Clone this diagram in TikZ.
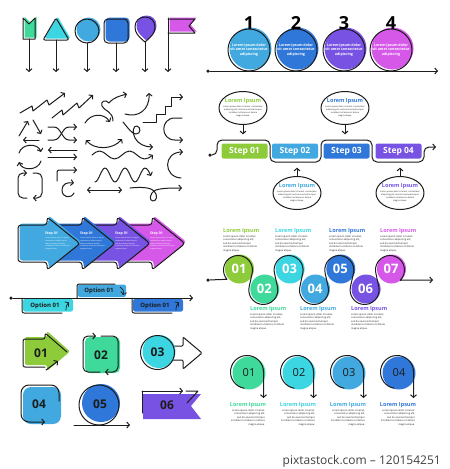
\documentclass[tikz,border=0pt]{standalone}
\usepackage{fontspec}
\setsansfont{Open Sans}
\usetikzlibrary{positioning}
\usetikzlibrary{calc}
\usetikzlibrary{shapes.geometric}
\usetikzlibrary{arrows.meta}
\definecolor{ink}{HTML}{1C1C1C}
\definecolor{clime}{HTML}{8DCB3B}
\definecolor{cgreen}{HTML}{3FD99B}
\definecolor{ccyan}{HTML}{3CD5E2}
\definecolor{csky}{HTML}{41A9E0}
\definecolor{cblue}{HTML}{2F77D8}
\definecolor{cpurple}{HTML}{7752E3}
\definecolor{cmagenta}{HTML}{D658E9}
\newcommand{\loremtext}{Lorem ipsum dolor sit amet,\\consectetur adipiscing elit,\\sed do eiusmod tempor\\incididunt ut labore et dolore\\magna aliqua.}
\newcommand{\loremwide}{Lorem ipsum dolor sit amet, consectetur\\adipiscing elit, sed do eiusmod tempor\\incididunt ut labore et dolore\\magna aliqua.}
\newcommand{\loremshort}{Lorem ipsum dolor\\sit amet consectetur\\adipiscing}
\tikzset{>={Straight Barb[length=2.6pt, width=6pt]},
        wire/.style={draw=ink, line width=1pt, line cap=round, line join=round},
        arr/.style={wire, ->},
        pindot/.style={circle, fill=ink, inner sep=0pt, minimum size=3.5pt},
        tint/.style={shift={(1.5,-1.5)}},
        lorem/.style={font=\sffamily\fontsize{2.5}{3.6}\selectfont, text=ink, inner sep=0pt},
        ltitle/.style={font=\sffamily\bfseries\fontsize{5.5}{5.5}\selectfont, inner sep=0pt},
        stepbox/.style={rounded corners=2pt, minimum width=46pt, minimum height=15pt, inner sep=0pt, text=white, font=\sffamily\bfseries\fontsize{8.5}{8.5}\selectfont},
        bubble/.style={ellipse, wire, fill=white, minimum width=48pt, minimum height=33pt, inner sep=0pt},
        chevtitle/.style={anchor=north west, inner sep=0pt, text=white, font=\sffamily\bfseries\fontsize{3.5}{3.5}\selectfont},
        chevbody/.style={anchor=north west, inner sep=0pt, text=white, align=left, font=\sffamily\fontsize{1.8}{2.8}\selectfont},
        wnum/.style={font=\sffamily\bfseries\fontsize{13}{13}\selectfont, text=white, inner sep=0pt},
        bnum/.style={font=\sffamily\bfseries\fontsize{12}{12}\selectfont, text=ink, inner sep=0pt},
        rnum/.style={font=\sffamily\fontsize{11}{11}\selectfont, text=ink, inner sep=0pt},
        optlabel/.style={font=\sffamily\bfseries\fontsize{6}{6}\selectfont, text=ink, inner sep=0pt},
}

\begin{document}
\begin{tikzpicture}[x=1pt, y=-1pt]
      \useasboundingbox (0,0) rectangle (450,469);

      % PINS
      \fill[cgreen, tint] (23,18) -- (29,24) -- (35,18) -- (35,39) -- (23,39) -- cycle;
      \draw[wire] (23,18) -- (29,24) -- (35,18) -- (35,39) -- (23,39) -- cycle;
      \draw[arr] (29,39) -- (29,72);
      \fill[ccyan, tint, rounded corners=2] (43,40) -- (56,18) -- (69,40) -- cycle;
      \draw[wire, rounded corners=2] (43,40) -- (56,18) -- (69,40) -- cycle;
      \draw[arr] (56,40) -- (56,72);
      \fill[csky, tint] (87,31) circle (12);
      \draw[wire] (87,31) circle (12);
      \draw[arr] (87,43) -- (87,72);
      \fill[cblue, tint, rounded corners=4] (104,19) rectangle (128,43);
      \draw[wire, rounded corners=4] (104,19) rectangle (128,43);
      \draw[arr] (116,43) -- (116,72);
      \fill[cpurple, tint] (145,42) .. controls (138,36) and (135,33) .. (135,27) .. controls (135,21) and (139,17) .. (145,17) .. controls (151,17) and (155,21) .. (155,27) .. controls (155,33) and (152,36) .. (145,42) -- cycle;
      \draw[wire] (145,42) .. controls (138,36) and (135,33) .. (135,27) .. controls (135,21) and (139,17) .. (145,17) .. controls (151,17) and (155,21) .. (155,27) .. controls (155,33) and (152,36) .. (145,42) -- cycle;
      \draw[arr] (145,42) -- (145,72);
      \fill[cmagenta, tint] (168,19) -- (195,19) -- (189,26) -- (195,33) -- (168,33) -- cycle;
      \draw[wire] (168,19) -- (195,19) -- (189,26) -- (195,33) -- (168,33);
      \draw[arr] (168,18) -- (168,72);

      % TIMELINE 1-4
      \node[pindot] (tstart) at (208,71) {};
      \coordinate (tend) at (438,71);
      \draw[arr] (tstart) -- (tend);
      \coordinate (t1) at (249,50);
      \coordinate (t2) at (296,50);
      \coordinate (t3) at (344,50);
      \coordinate (t4) at (391,50);
      \fill[csky] ($(t1)+(1.5,-1.5)$) circle (21);
      \fill[cblue] ($(t2)+(1.5,-1.5)$) circle (21);
      \fill[cpurple] ($(t3)+(1.5,-1.5)$) circle (21);
      \fill[cmagenta] ($(t4)+(1.5,-1.5)$) circle (21);
      \draw[wire] (t1) circle (21);
      \draw[wire] (t2) circle (21);
      \draw[wire] (t3) circle (21);
      \draw[wire] (t4) circle (21);
      \node[lorem, text=white, align=center, font=\sffamily\bfseries\fontsize{3.6}{4.6}\selectfont] (t1x) at (t1) {\loremshort};
      \node[lorem, text=white, align=center, font=\sffamily\bfseries\fontsize{3.6}{4.6}\selectfont] (t2x) at (t2) {\loremshort};
      \node[lorem, text=white, align=center, font=\sffamily\bfseries\fontsize{3.6}{4.6}\selectfont] (t3x) at (t3) {\loremshort};
      \node[lorem, text=white, align=center, font=\sffamily\bfseries\fontsize{3.6}{4.6}\selectfont] (t4x) at (t4) {\loremshort};
      \node[font=\sffamily\bfseries\fontsize{18}{18}\selectfont, inner sep=0pt] (n1) at (249,23) {1};
      \node[font=\sffamily\bfseries\fontsize{18}{18}\selectfont, inner sep=0pt] (n2) at (296,23) {2};
      \node[font=\sffamily\bfseries\fontsize{18}{18}\selectfont, inner sep=0pt] (n3) at (344,23) {3};
      \node[font=\sffamily\bfseries\fontsize{18}{18}\selectfont, inner sep=0pt] (n4) at (391,23) {4};

      % DOODLE ARROWS
      \draw[arr] (20,113) -- (32,106) -- (33,111) -- (47,100) -- (49,105) -- (65,93);
      \draw[arr] (52,118) -- (62,110) -- (63,115) -- (77,103) -- (79,108) -- (93,95);
      \draw[arr] (113,121) .. controls (113,111) and (104,111) .. (102,106) .. controls (100,101) and (106,99) .. (109,103) .. controls (114,97) and (120,96) .. (127,94);
      \draw[arr] (125,114) .. controls (138,118) and (150,110) .. (149,93);
      \draw[arr] (143,122) -- (156,122) -- (156,114) -- (165,114) -- (165,106) -- (171,106) -- (171,97) -- (183,97);
      \draw[arr] (33,120) -- (41,134);
      \draw[arr] (39,140) -- (23,140);
      \draw[arr] (19,136) -- (28,121);
      \draw[arr] (48,127) -- (54,127) .. controls (61,127) and (62,140) .. (69,140) -- (77,140);
      \draw[arr] (48,140) -- (54,140) .. controls (61,140) and (62,127) .. (69,127) -- (77,127);
      \draw[arr] (85,123) .. controls (91,113) and (104,113) .. (110,122);
      \draw[wire, <->] (86,140) .. controls (94,150) and (113,150) .. (122,139);
      \draw[arr] (123,122) .. controls (128,128) and (132,134) .. (136,134) .. controls (141,134) and (141,127) .. (137,126) .. controls (133,125) and (132,133) .. (135,138) .. controls (138,144) and (145,147) .. (153,147);
      \draw[arr] (182,118) -- (175,118) .. controls (160,118) and (160,140) .. (175,140) -- (183,140);
      \draw[arr] (19,153) .. controls (22,143) and (38,143) .. (41,152);
      \draw[arr] (41,161) .. controls (38,171) and (22,171) .. (19,162);
      \draw[arr] (77,150) -- (48,150);
      \draw[arr] (48,157) -- (77,157);
      \draw[arr] (92,155) sin (99.5,151) cos (107,155) sin (114.5,159) cos (122,155) sin (129.5,151) cos (137,155) sin (144.5,159) cos (153,155);
      \draw[arr] (181,178) .. controls (163,177) and (163,152) .. (183,152);
      \draw[arr, rounded corners=5] (27,198) -- (18,198) -- (18,173) -- (27,173);
      \draw[arr, rounded corners=5] (33,173) -- (42,173) -- (42,198) -- (33,198);
      \draw[arr, rounded corners=2] (57,181) -- (57,170) -- (77,170);
      \draw[arr] (74,193) .. controls (71,199) and (62,198) .. (62,190) .. controls (62,184) and (67,182) .. (74,183);
      \draw[arr] (95,182) cos (100,175) sin (105,168) cos (110,175) sin (115,182) cos (120,175) sin (125,168) cos (130,175) sin (135,182) cos (140,175) sin (145,168) cos (151,176);
      \draw[wire, <->] (87,190) -- (122,190);
      \draw[arr] (130,188) .. controls (140,187) and (150,187) .. (154,191) .. controls (158,195) and (157,201) .. (153,201) .. controls (149,201) and (149,193) .. (156,190) .. controls (162,188) and (172,188) .. (182,188);

      % STEPS
      \node[stepbox, fill=clime] (s1) at (244.5,151) {Step 01};
      \node[stepbox, fill=csky] (s2) at (295,151) {Step 02};
      \node[stepbox, fill=cblue] (s3) at (346.5,151) {Step 03};
      \node[stepbox, fill=cpurple] (s4) at (398.5,151) {Step 04};
      \node[pindot] (sstart) at (210,155) {};
      \draw[arr, rounded corners=5] (sstart) -- (217,155) -- (217,140) -- (270,140) -- (270,162) -- (321,162) -- (321,140) -- (372,140) -- (372,162) -- (424,162) -- (424,147) -- (436,147);
      % bubbles
      \node[bubble] (b1) at (243,108) {};
      \node[bubble] (b3) at (345,108) {};
      \node[bubble] (b2) at (297,193) {};
      \node[bubble] (b4) at (400,193) {};
      \node[ltitle, text=clime] (b1t) at (243,101) {Lorem Ipsum};
      \node[ltitle, text=cblue] (b3t) at (345,101) {Lorem Ipsum};
      \node[ltitle, text=csky] (b2t) at (297,186) {Lorem Ipsum};
      \node[ltitle, text=cpurple] (b4t) at (400,186) {Lorem Ipsum};
      \node[lorem, align=center, font=\sffamily\fontsize{2.1}{3}\selectfont] (b1x) at (243,111) {\loremwide};
      \node[lorem, align=center, font=\sffamily\fontsize{2.1}{3}\selectfont] (b3x) at (345,111) {\loremwide};
      \node[lorem, align=center, font=\sffamily\fontsize{2.1}{3}\selectfont] (b2x) at (297,196) {\loremwide};
      \node[lorem, align=center, font=\sffamily\fontsize{2.1}{3}\selectfont] (b4x) at (400,196) {\loremwide};
      \draw[arr, shorten >=9pt] (b1) -- (b1 |- s1.north);
      \draw[arr, shorten >=9pt] (b3) -- (b3 |- s3.north);
      \draw[arr, shorten >=9pt] (b2) -- (b2 |- s2.south);
      \draw[arr, shorten >=9pt] (b4) -- (b4 |- s4.south);

      % STEP ARROWS
      \fill[cmagenta, tint, rounded corners=3] (123,225) -- (152,225) -- (152,217) -- (185,243.5) -- (152,270) -- (152,262) -- (123,262) -- cycle;
      \draw[wire, rounded corners=3] (123,225) -- (152,225) -- (152,217) -- (185,243.5) -- (152,270) -- (152,262) -- (123,262) -- cycle;
      \fill[cpurple, tint, rounded corners=3] (88,225) -- (117,225) -- (117,217) -- (150,243.5) -- (117,270) -- (117,262) -- (88,262) -- cycle;
      \draw[wire, rounded corners=3] (88,225) -- (117,225) -- (117,217) -- (150,243.5) -- (117,270) -- (117,262) -- (88,262) -- cycle;
      \fill[cblue, tint, rounded corners=3] (53,225) -- (82,225) -- (82,217) -- (115,243.5) -- (82,270) -- (82,262) -- (53,262) -- cycle;
      \draw[wire, rounded corners=3] (53,225) -- (82,225) -- (82,217) -- (115,243.5) -- (82,270) -- (82,262) -- (53,262) -- cycle;
      \fill[csky, tint, rounded corners=3] (18,225) -- (47,225) -- (47,217) -- (80,243.5) -- (47,270) -- (47,262) -- (18,262) -- cycle;
      \draw[wire, rounded corners=3] (18,225) -- (47,225) -- (47,217) -- (80,243.5) -- (47,270) -- (47,262) -- (18,262) -- cycle;
      \node[chevtitle] (a1t) at (45,232) {Step 01};
      \node[chevtitle] (a2t) at (80,232) {Step 01};
      \node[chevtitle] (a3t) at (115,232) {Step 01};
      \node[chevtitle] (a4t) at (150,232) {Step 01};
      \node[chevbody] (a1x) at (45,237) {\loremtext};
      \node[chevbody] (a2x) at (80,237) {\loremtext};
      \node[chevbody] (a3x) at (115,237) {\loremtext};
      \node[chevbody] (a4x) at (150,237) {\loremtext};

      % OPTIONS
      \node[pindot] (ostart) at (11,298) {};
      \coordinate (oend) at (193,298);
      \draw[arr] (ostart) -- (oend);
      \fill[ccyan, rounded corners=2] (23,299) rectangle (73,311.5);
      \fill[csky, rounded corners=2] (78,284.5) rectangle (126,297);
      \fill[cblue, rounded corners=2] (133,299) rectangle (183,311.5);
      \draw[wire, rounded corners=2] (22,298) -- (22,313) -- (62,313);
      \draw[wire, rounded corners=2] (77,298) -- (77,284) -- (115,284);
      \draw[wire, rounded corners=2] (132,298) -- (132,313) -- (172,313);
      \node[optlabel] (o1) at (45,305.5) {Option 01};
      \node[optlabel] (o2) at (99,291) {Option 01};
      \node[optlabel] (o3) at (155,305.5) {Option 01};
      \draw[arr, line width=0.7pt] (66,310) .. controls (66,306) and (67,304) .. (69,302.5);
      \draw[arr, line width=0.7pt] (120,287) .. controls (123,288) and (124,291) .. (123,295);
      \draw[arr, line width=0.7pt] (176,310) .. controls (176,306) and (177,304) .. (179,302.5);

      % WAVE 01-07
      \coordinate (w1) at (238,270);
      \coordinate (w2) at (263.3,290);
      \coordinate (w3) at (288.6,270);
      \coordinate (w4) at (314,290);
      \coordinate (w5) at (339.3,270);
      \coordinate (w6) at (364.6,290);
      \coordinate (w7) at (390,270);
      \fill[clime] ($(w1)+(1.5,-1)$) circle (14.5);
      \fill[cgreen] ($(w2)+(1.5,-1)$) circle (14.5);
      \fill[ccyan] ($(w3)+(1.5,-1)$) circle (14.5);
      \fill[csky] ($(w4)+(1.5,-1)$) circle (14.5);
      \fill[cblue] ($(w5)+(1.5,-1)$) circle (14.5);
      \fill[cpurple] ($(w6)+(1.5,-1)$) circle (14.5);
      \fill[cmagenta] ($(w7)+(1.5,-1)$) circle (14.5);
      \node[pindot] (wstart) at (208,280) {};
      \coordinate (wend) at (433,280);
      \draw[arr] (wstart) -- ($(w1)+(140:14.5)$) arc[start angle=140, end angle=372.3, radius=14.5]
        -- ($(w2)+(192.3:14.5)$) arc[start angle=192.3, end angle=-12.3, radius=14.5]
        -- ($(w3)+(167.7:14.5)$) arc[start angle=167.7, end angle=372.3, radius=14.5]
        -- ($(w4)+(192.3:14.5)$) arc[start angle=192.3, end angle=-12.3, radius=14.5]
        -- ($(w5)+(167.7:14.5)$) arc[start angle=167.7, end angle=372.3, radius=14.5]
        -- ($(w6)+(192.3:14.5)$) arc[start angle=192.3, end angle=-12.3, radius=14.5]
        -- ($(w7)+(167.7:14.5)$) arc[start angle=167.7, end angle=405, radius=14.5] -- (wend);
      \node[wnum] (w1n) at ($(w1)+(1,-1)$) {01};
      \node[wnum] (w2n) at ($(w2)+(1,-1)$) {02};
      \node[wnum] (w3n) at ($(w3)+(1,-1)$) {03};
      \node[wnum] (w4n) at ($(w4)+(1,-1)$) {04};
      \node[wnum] (w5n) at ($(w5)+(1,-1)$) {05};
      \node[wnum] (w6n) at ($(w6)+(1,-1)$) {06};
      \node[wnum] (w7n) at ($(w7)+(1,-1)$) {07};
      \node[ltitle, anchor=north west, text=clime] (w1t) at (223,228) {Lorem Ipsum};
      \node[ltitle, anchor=north west, text=ccyan] (w3t) at (275,228) {Lorem Ipsum};
      \node[ltitle, anchor=north west, text=cblue] (w5t) at (329,228) {Lorem Ipsum};
      \node[ltitle, anchor=north west, text=cmagenta] (w7t) at (380,228) {Lorem Ipsum};
      \node[ltitle, anchor=north west, text=cgreen] (w2t) at (250,306) {Lorem Ipsum};
      \node[ltitle, anchor=north west, text=csky] (w4t) at (300,306) {Lorem Ipsum};
      \node[ltitle, anchor=north west, text=cpurple] (w6t) at (351,306) {Lorem Ipsum};
      \node[lorem, anchor=north west, align=left] (w1x) at (223,235) {\loremtext};
      \node[lorem, anchor=north west, align=left] (w3x) at (275,235) {\loremtext};
      \node[lorem, anchor=north west, align=left] (w5x) at (329,235) {\loremtext};
      \node[lorem, anchor=north west, align=left] (w7x) at (380,235) {\loremtext};
      \node[lorem, anchor=north west, align=left] (w2x) at (250,313) {\loremtext};
      \node[lorem, anchor=north west, align=left] (w4x) at (300,313) {\loremtext};
      \node[lorem, anchor=north west, align=left] (w6x) at (351,313) {\loremtext};

      % BADGES 01-06
      \fill[clime, rounded corners=2] (25,337) -- (47,337) -- (47,331) -- (70,351.5) -- (47,371) -- (47,365) -- (25,365) -- cycle;
      \draw[wire, rounded corners=2] (45,367) -- (23,367) -- (23,339) -- (45,339) -- (45,333) -- (67,352);
      \draw[arr] (46,370) -- (58,361);
      \node[bnum] (g1) at (41,353) {01};
      \fill[cgreen, rounded corners=5] (85,337) rectangle (120,373);
      \draw[arr, rounded corners=5] (100,372) -- (83,372) -- (83,336) -- (96,336);
      \draw[arr, rounded corners=5] (101,336) -- (118,336) -- (118,372) -- (105,372);
      \node[bnum] (g2) at (101,355) {02};
      \coordinate (g3c) at (157.5,352.5);
      \draw[wire, rounded corners=1] (173,346) -- (183,346) -- (183,337) -- (202,353) -- (183,369) -- (183,360) -- (173,360);
      \fill[ccyan] ($(g3c)+(1.5,-1)$) circle (16.5);
      \draw[wire] (g3c) circle (17);
      \node[bnum] (g3) at (g3c) {03};
      \fill[csky, rounded corners=8] (23,387) rectangle (61,424);
      \draw[arr, rounded corners=8] (59,401) -- (59,385) -- (21,385) -- (21,422) -- (45,422);
      \node[bnum] (g4) at (39,404) {04};
      \coordinate (g5c) at (99,405);
      \fill[cblue] (101,403) circle (19);
      \draw[wire] (g5c) circle (20);
      \draw[arr] (74,425) -- (130,425);
      \node[bnum] (g5) at (100,404) {05};
      \fill[cpurple] (143,394) -- (201,394) -- (191,406) -- (201,419) -- (143,419) -- cycle;
      \draw[wire] (142,413) -- (142,391);
      \draw[arr] (142,391) -- (183,391);
      \draw[wire] (186,391) -- (198,391) -- (187,403);
      \node[bnum] (g6) at (167,405) {06};

      % CIRCLES 01-04
      \coordinate (r1) at (247,372);
      \coordinate (r2) at (297,372);
      \coordinate (r3) at (347,372);
      \coordinate (r4) at (397,372);
      \fill[cgreen] ($(r1)+(2,1)$) circle (16.5);
      \fill[ccyan] ($(r2)+(2,1)$) circle (16.5);
      \fill[csky] ($(r3)+(2,1)$) circle (16.5);
      \fill[cblue] ($(r4)+(2,1)$) circle (16.5);
      \draw[arr] ($(r1)+(100:16.5)$) arc[start angle=100, end angle=360, radius=16.5] -- ($(r1)+(16.5,26)$);
      \draw[arr] ($(r2)+(100:16.5)$) arc[start angle=100, end angle=360, radius=16.5] -- ($(r2)+(16.5,26)$);
      \draw[arr] ($(r3)+(100:16.5)$) arc[start angle=100, end angle=360, radius=16.5] -- ($(r3)+(16.5,26)$);
      \draw[arr] ($(r4)+(100:16.5)$) arc[start angle=100, end angle=360, radius=16.5] -- ($(r4)+(16.5,26)$);
      \node[rnum] (r1n) at ($(r1)+(2,1)$) {01};
      \node[rnum] (r2n) at ($(r2)+(2,1)$) {02};
      \node[rnum] (r3n) at ($(r3)+(2,1)$) {03};
      \node[rnum] (r4n) at ($(r4)+(2,1)$) {04};
      \node[ltitle, text=cgreen] (r1t) at (248,405) {Lorem Ipsum};
      \node[ltitle, text=ccyan] (r2t) at (298,405) {Lorem Ipsum};
      \node[ltitle, text=csky] (r3t) at (348,405) {Lorem Ipsum};
      \node[ltitle, text=cblue] (r4t) at (398,405) {Lorem Ipsum};
      \node[lorem, align=right, anchor=north] (r1x) at (248,409) {\loremtext};
      \node[lorem, align=right, anchor=north] (r2x) at (298,409) {\loremtext};
      \node[lorem, align=right, anchor=north] (r3x) at (348,409) {\loremtext};
      \node[lorem, align=right, anchor=north] (r4x) at (398,409) {\loremtext};

      % CREDIT
      \node[anchor=east, inner sep=0pt, text=black!75, font=\sffamily\fontsize{12}{12}\selectfont] (credit) at (441,461) {pixtastock.com -- 120154251};
\end{tikzpicture}
\end{document}
